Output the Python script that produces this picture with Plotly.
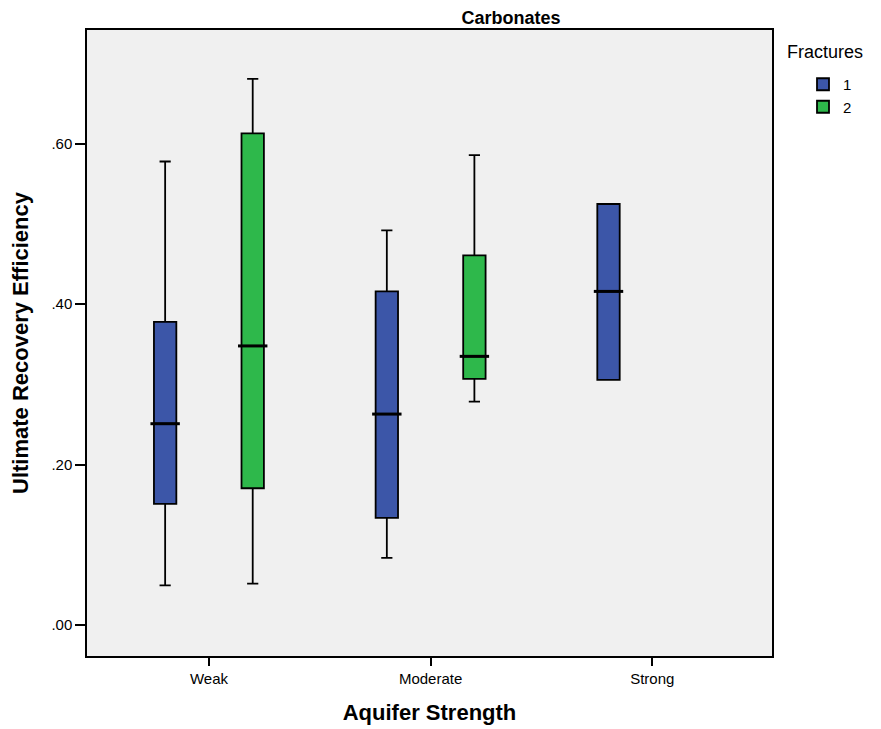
import plotly.graph_objects as go

# ---- data ----
categories = ["Weak", "Moderate", "Strong"]
y_tick_vals = [0.0, 0.2, 0.4, 0.6]
y_tick_text = [".00", ".20", ".40", ".60"]

frac1_cats = ["Weak", "Moderate", "Strong"]
frac1_lower = [0.0495, 0.0836, 0.3056]
frac1_q1 = [0.151, 0.1335, 0.3056]
frac1_median = [0.251, 0.263, 0.416]
frac1_q3 = [0.378, 0.416, 0.525]
frac1_upper = [0.578, 0.492, 0.525]

frac2_cats = ["Weak", "Moderate"]
frac2_lower = [0.0515, 0.2785]
frac2_q1 = [0.1705, 0.307]
frac2_median = [0.348, 0.335]
frac2_q3 = [0.613, 0.461]
frac2_upper = [0.681, 0.586]

# ---- styling ----
BLUE = "#3C56A8"
GREEN = "#2EB84B"
FONT = "Liberation Sans, Arial, sans-serif"
OFFSET = 0.1975
BOX_W = 0.101

def pos(cats, off):
    return [categories.index(c) + off for c in cats]

fig = go.Figure()
series = [
    ("1", frac1_cats, frac1_lower, frac1_q1, frac1_median, frac1_q3, frac1_upper, BLUE, -OFFSET),
    ("2", frac2_cats, frac2_lower, frac2_q1, frac2_median, frac2_q3, frac2_upper, GREEN, OFFSET),
]
for name, cats, lo, q1, med, q3, up, col, off in series:
    xs = pos(cats, off)
    fig.add_trace(go.Box(
        name=name, x=xs, q1=q1, median=med, q3=q3,
        lowerfence=lo, upperfence=up,
        width=BOX_W, whiskerwidth=0.5,
        fillcolor=col, line=dict(color="black", width=1.8),
        boxpoints=False, hoverinfo="skip",
    ))
    # thicker median line
    fig.add_trace(go.Scatter(
        x=xs, y=med, mode="markers", showlegend=False, hoverinfo="skip",
        marker=dict(symbol="line-ew", size=21, line=dict(color="black", width=3)),
    ))

W, H = 873, 721   # page body adds 8px offset
L, R, T, B = 79, 109, 22, 73
PW, PH = W - L - R, H - T - B

fig.update_layout(
    width=W, height=H,
    paper_bgcolor="white", plot_bgcolor="#F0F0F0",
    margin=dict(l=L, r=R, t=T, b=B, autoexpand=False),
    font=dict(family=FONT, size=15, color="black"),
    title=dict(text="<b>Carbonates</b>", x=503 / W, xanchor="center",
               y=1 - 10 / H, yanchor="middle", font=dict(size=18)),
    showlegend=True,
    legend=dict(x=(795 - L) / PW, xanchor="left", y=(PH + T - 60) / PH, yanchor="top",
                font=dict(size=15), bgcolor="rgba(0,0,0,0)", tracegroupgap=0),
    annotations=[dict(text="Fractures", xref="paper", yref="paper",
                      x=(777 - L) / PW, y=(PH + T - 44) / PH,
                      xanchor="left", yanchor="middle", showarrow=False,
                      font=dict(size=18))],
    xaxis=dict(range=[-0.55, 2.54], tickvals=[0, 1, 2], ticktext=categories,
               ticks="outside", ticklen=8, tickwidth=1.5, tickcolor="black",
               showline=True, linecolor="black", linewidth=1.5, mirror=True,
               showgrid=False, zeroline=False, automargin=False,
               title=dict(text="<b>Aquifer Strength</b>", font=dict(size=22), standoff=19)),
    yaxis=dict(range=[-0.0387, 0.742], tickvals=y_tick_vals, ticktext=y_tick_text,
               ticks="outside", ticklen=10, tickwidth=1.5, tickcolor="black",
               showline=True, linecolor="black", linewidth=1.5, mirror=True,
               showgrid=False, zeroline=False, automargin=False,
               title=dict(text="<b>Ultimate Recovery Efficiency</b>", font=dict(size=22), standoff=18)),
)

fig.write_html("out.html")
